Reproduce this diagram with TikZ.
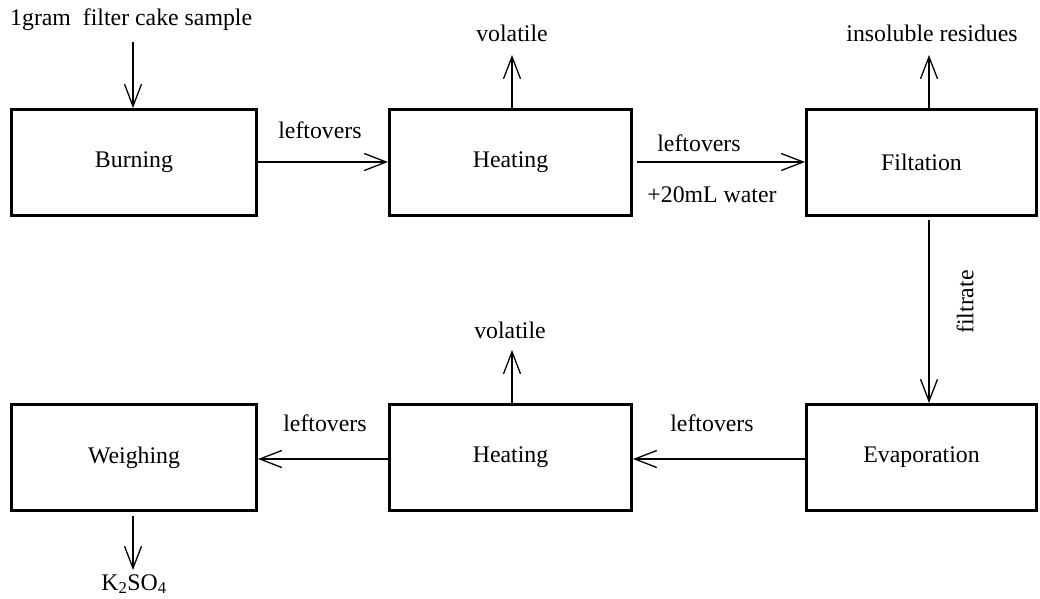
\documentclass[tikz,border=0pt]{standalone}
\usepackage{fontspec}
\setmainfont{Liberation Serif}
\usetikzlibrary{arrows.meta,calc}
\begin{document}
\begin{tikzpicture}[x=1pt,y=-1pt,
  every node/.style={font=\fontsize{23.8}{28}\selectfont},
  stage/.style={draw, line width=3pt, rectangle, inner sep=0pt, minimum height=106pt},
  flow/.style={line width=1.3pt, line join=miter, -{Straight Barb[length=22pt,width=17pt]}},
  lbl/.style={inner sep=0pt}]
\useasboundingbox (0,0) rectangle (1040,598);

% process stages
\node[stage, minimum width=245pt] (burn)  at (134,162.5)   {Burning};
\node[stage, minimum width=242pt] (heat1) at (510.5,162.5) {Heating};
\node[stage, minimum width=230pt] (filt)  at (921.5,162.5) {Filtation};
\node[stage, minimum width=245pt] (weigh) at (134,457.5)   {Weighing};
\node[stage, minimum width=242pt] (heat2) at (510.5,457.5) {Heating};
\node[stage, minimum width=230pt] (evap)  at (921.5,457.5) {Evaporation};

% helper points for the connectors
\coordinate (upper) at (0,162);
\coordinate (lower) at (0,459);
\coordinate (insrc) at (133,42);
\coordinate (vol1end) at (512,55);
\coordinate (insend) at (929,55);
\coordinate (vol2end) at (512,350);
\coordinate (prodend) at (133,570);

% texts
\node[lbl, anchor=west] (sample) at (10,20) {1gram\ \ filter cake sample};
\node[lbl] (vol1) at (512,33) {volatile};
\node[lbl] (ins) at (932,33) {insoluble residues};
\node[lbl] (lo1) at (320,130) {leftovers};
\node[lbl] (lo2) at (699,143) {leftovers};
\node[lbl] (water) at (712,195) {+20mL water};
\node[lbl, rotate=90] (filtr) at (965,302) {filtrate};
\node[lbl] (vol2) at (510,330) {volatile};
\node[lbl] (lo3) at (712,423) {leftovers};
\node[lbl] (lo4) at (325,423) {leftovers};
\node[lbl] (prod) at (134,584) {K\textsubscript{2}SO\textsubscript{4}};

% connectors
\draw[flow] (insrc) -- (insrc |- burn.north);
\draw[flow] (burn.east |- upper) -- (heat1.west |- upper);
\draw[flow] (vol1end |- heat1.north) -- (vol1end);
\draw[flow] ($(heat1.east |- upper)+(4,0)$) -- (filt.west |- upper);
\draw[flow] (insend |- filt.north) -- (insend);
\draw[flow] ($(filt.south -| insend)+(0,3)$) -- (evap.north -| insend);
\draw[flow] (evap.west |- lower) -- (heat2.east |- lower);
\draw[flow] (vol2end |- heat2.north) -- (vol2end);
\draw[flow] (heat2.west |- lower) -- (weigh.east |- lower);
\draw[flow] ($(weigh.south -| prodend)+(0,4)$) -- (prodend);
\end{tikzpicture}
\end{document}
